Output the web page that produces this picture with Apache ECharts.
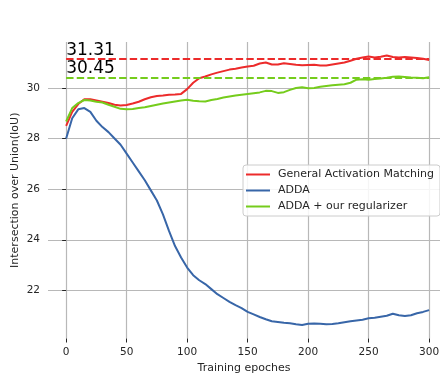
<!DOCTYPE html>
<html>
<head>
<meta charset="utf-8">
<script src="https://cdn.jsdelivr.net/npm/echarts@6/dist/echarts.min.js"></script>
<style>html,body{margin:0;padding:0;background:#fff}#c{width:440px;height:375px}</style>
</head>
<body>
<div id="c"></div>
<script>
const epochs = [];
for (let e = 0; e <= 300; e += 5) epochs.push(e);
const xTicks = [0, 50, 100, 150, 200, 250, 300];
const yTicks = [22, 24, 26, 28, 30];
const seriesNames = ['General Activation Matching', 'ADDA', 'ADDA + our regularizer'];
const gam = [28.5,29.05,29.36,29.55,29.55,29.5,29.45,29.4,29.33,29.3,29.32,29.38,29.45,29.55,29.63,29.68,29.7,29.73,29.74,29.76,29.95,30.2,30.38,30.45,30.53,30.6,30.66,30.72,30.75,30.8,30.84,30.87,30.96,31.0,30.92,30.92,30.97,30.94,30.91,30.89,30.9,30.91,30.88,30.88,30.92,30.96,31.0,31.07,31.15,31.2,31.24,31.2,31.23,31.28,31.22,31.2,31.22,31.2,31.18,31.15,31.1];
const adda = [28.0,28.8,29.15,29.2,29.05,28.7,28.45,28.25,28.0,27.75,27.4,27.05,26.7,26.35,25.95,25.55,25.0,24.35,23.75,23.3,22.9,22.6,22.4,22.25,22.05,21.85,21.7,21.55,21.42,21.3,21.15,21.05,20.95,20.86,20.78,20.75,20.72,20.7,20.66,20.63,20.68,20.69,20.68,20.66,20.67,20.7,20.74,20.78,20.81,20.84,20.9,20.92,20.96,21.0,21.08,21.02,20.99,21.02,21.1,21.15,21.22];
const addaReg = [28.67,29.2,29.4,29.52,29.5,29.45,29.42,29.33,29.25,29.17,29.15,29.16,29.2,29.23,29.28,29.33,29.38,29.42,29.46,29.5,29.53,29.49,29.47,29.46,29.52,29.56,29.62,29.66,29.7,29.73,29.76,29.79,29.82,29.88,29.87,29.8,29.83,29.92,29.99,30.02,29.98,29.99,30.04,30.07,30.1,30.12,30.14,30.2,30.32,30.34,30.32,30.35,30.37,30.4,30.44,30.45,30.43,30.41,30.4,30.38,30.42];
const refLevels = [31.14, 30.41];
const refLabels = ['31.31', '30.45'];
const refRange = [0, 300];

const colors = ['#ec2b2b', '#3866a8', '#75cc1c'];
const font = 'DejaVu Sans';
const txt = '#262626';

function pairs(vals) { return epochs.map((e, i) => [e, vals[i]]); }

const lineSeries = [gam, adda, addaReg].map((vals, i) => ({
  name: seriesNames[i], type: 'line', data: pairs(vals), showSymbol: false, symbol: 'none',
  lineStyle: { color: colors[i], width: 2 }, itemStyle: { color: colors[i] }, z: 3, animation: false
}));

const refSeries = refLevels.map((v, i) => ({
  type: 'line', data: [], silent: true, animation: false,
  markLine: {
    silent: true, animation: false, symbol: ['none', 'none'],
    lineStyle: { type: [7.4, 3.2], color: colors[i === 0 ? 0 : 2], width: 2 },
    label: { show: true, position: 'insideStartTop', distance: [0, 0], formatter: refLabels[i],
      fontFamily: font, fontSize: 17, color: '#000' },
    data: [[{ coord: [refRange[0], v] }, { coord: [refRange[1], v] }]]
  }
}));

const chart = echarts.init(document.getElementById('c'), null, { renderer: 'canvas' });
chart.setOption({
  backgroundColor: '#fff',
  animation: false,
  grid: { left: 48, right: 0, top: 42, bottom: 375 - 338.5, containLabel: false, outerBoundsMode: 'none' },
  legend: {
    orient: 'vertical', left: 243, top: 165, padding: [3, 6, 3, 3],
    itemWidth: 24, itemHeight: 2, itemGap: 3, icon: 'rect',
    data: seriesNames,
    backgroundColor: 'rgba(255,255,255,0.85)', borderColor: '#cccccc', borderWidth: 1, borderRadius: 3,
    textStyle: { fontFamily: font, fontSize: 11, color: txt, lineHeight: 13, padding: [0, 0, 0, 3] }
  },
  xAxis: {
    type: 'value', min: -15, max: 309,
    name: 'Training epoches', nameLocation: 'middle', nameGap: 24, nameMoveOverlap: false,
    nameTextStyle: { fontFamily: font, fontSize: 11, color: txt },
    axisLine: { show: false },
    axisTick: { show: true, length: 4, lineStyle: { color: txt, width: 1 }, customValues: xTicks },
    axisLabel: { fontFamily: font, fontSize: 10.5, color: txt, margin: 8, customValues: xTicks },
    splitLine: { show: true, lineStyle: { color: '#b8b8b8', width: 1.2 } }
  },
  yAxis: {
    type: 'value', min: 20.1, max: 31.81,
    name: 'Intersection over Union(IoU)', nameLocation: 'middle', nameGap: 27, nameMoveOverlap: false,
    nameTextStyle: { fontFamily: font, fontSize: 11, color: txt },
    axisLine: { show: false },
    axisTick: { show: true, length: 4, lineStyle: { color: txt, width: 1 }, customValues: yTicks },
    axisLabel: { fontFamily: font, fontSize: 10.5, color: txt, margin: 8, customValues: yTicks },
    splitLine: { show: true, lineStyle: { color: '#b8b8b8', width: 1.2 } }
  },
  series: [...lineSeries, ...refSeries]
});
</script>
</body>
</html>
